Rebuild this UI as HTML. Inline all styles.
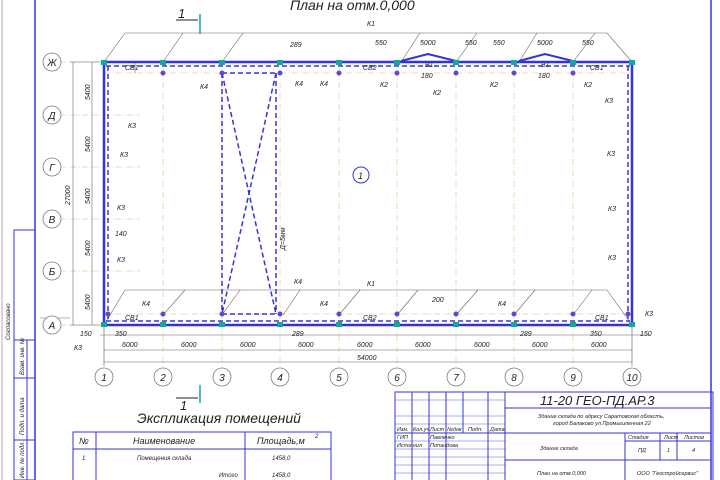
<!DOCTYPE html>
<html><head><meta charset="utf-8"><style>
body{margin:0;background:#fff}
svg{display:block}
text{font-family:"Liberation Sans",sans-serif;font-style:italic;fill:#222}
</style></head><body>
<svg width="720" height="480" viewBox="0 0 720 480" xmlns="http://www.w3.org/2000/svg">
<!-- frame -->
<line x1="35" y1="0" x2="35" y2="480" stroke="#3333dd" stroke-width="1.5"/>
<line x1="711" y1="0" x2="711" y2="480" stroke="#3333dd" stroke-width="1.5"/>
<line x1="2" y1="0" x2="2" y2="480" stroke="#999" stroke-width="0.8"/>
<g stroke="#3333dd" stroke-width="1" fill="none">
<rect x="14" y="230" width="21" height="250"/>
<line x1="27" y1="340" x2="27" y2="480"/>
<line x1="14" y1="340" x2="35" y2="340"/>
<line x1="14" y1="378" x2="35" y2="378"/>
<line x1="14" y1="440" x2="35" y2="440"/>
</g>
<g font-size="6" fill="#333">
<text transform="translate(10,340) rotate(-90)">Согласовано</text>
<text transform="translate(24,375) rotate(-90)">Взам. инв. №</text>
<text transform="translate(24,435) rotate(-90)">Подп. и дата</text>
<text transform="translate(24,478) rotate(-90)">Инв. № подл.</text>
</g>
<!-- title -->
<text x="290" y="10" font-size="14">План на отм.0,000</text>
<!-- section mark -->
<text x="178" y="18" font-size="13" font-style="normal">1</text>
<line x1="176" y1="20" x2="198" y2="20" stroke="#222"/>
<line x1="200" y1="14" x2="200" y2="34" stroke="#1a9" stroke-width="1.5"/>
<text x="180" y="410" font-size="13" font-style="normal">1</text>
<line x1="176" y1="398" x2="198" y2="398" stroke="#222"/>
<line x1="200" y1="385" x2="200" y2="403" stroke="#1a9" stroke-width="1.5"/>
<!-- axis lines -->
<g stroke="#e8b070" stroke-width="0.5" stroke-dasharray="6 2 1 2">
<line x1="104" y1="60" x2="104" y2="368"/><line x1="163" y1="60" x2="163" y2="368"/><line x1="222" y1="60" x2="222" y2="368"/><line x1="280" y1="60" x2="280" y2="368"/><line x1="339" y1="60" x2="339" y2="368"/><line x1="397" y1="60" x2="397" y2="368"/><line x1="456" y1="60" x2="456" y2="368"/><line x1="514" y1="60" x2="514" y2="368"/><line x1="573" y1="60" x2="573" y2="368"/><line x1="632" y1="60" x2="632" y2="368"/>
<line x1="60" y1="62" x2="140" y2="62"/><line x1="60" y1="115" x2="140" y2="115"/><line x1="60" y1="167" x2="140" y2="167"/><line x1="60" y1="219" x2="140" y2="219"/><line x1="60" y1="271" x2="140" y2="271"/><line x1="60" y1="325" x2="140" y2="325"/>
<line x1="104" y1="73" x2="632" y2="73"/><line x1="104" y1="314" x2="632" y2="314"/>
</g>
<!-- trapezoid leader lines -->
<g stroke="#666" stroke-width="0.6" fill="none">
<polyline points="104,62 125,33 607,33 632,62"/>
<polyline points="104,325 125,290 607,290 632,325"/>
<line x1="163" y1="62" x2="183" y2="33"/><line x1="222" y1="62" x2="243" y2="33"/><line x1="401" y1="62" x2="420" y2="33"/><line x1="456" y1="62" x2="477" y2="33"/><line x1="519" y1="62" x2="537" y2="33"/><line x1="573" y1="62" x2="595" y2="33"/>
<line x1="163" y1="315" x2="185" y2="290"/><line x1="222" y1="315" x2="240" y2="290"/><line x1="283" y1="315" x2="300" y2="290"/><line x1="339" y1="315" x2="360" y2="290"/><line x1="397" y1="315" x2="418" y2="290"/><line x1="456" y1="315" x2="478" y2="290"/><line x1="514" y1="315" x2="535" y2="290"/><line x1="573" y1="315" x2="592" y2="290"/>
<!-- dims -->
<line x1="73" y1="62" x2="73" y2="325"/><line x1="92" y1="62" x2="92" y2="325"/>
<line x1="70" y1="62" x2="104" y2="62"/><line x1="70" y1="325" x2="104" y2="325"/>
<line x1="104" y1="350" x2="632" y2="350"/><line x1="104" y1="362" x2="632" y2="362"/>
<line x1="104" y1="325" x2="104" y2="366"/><line x1="632" y1="325" x2="632" y2="366"/>
<line x1="100" y1="335" x2="650" y2="335"/>
<line x1="40" y1="318" x2="70" y2="318" /><line x1="135" y1="62" x2="135" y2="73"/>
</g>
<g font-size="7">
<text x="367" y="26">К1</text><text x="367" y="286">К1</text>
<text transform="translate(70,205) rotate(-90)">27000</text>
<text transform="translate(90,100) rotate(-90)">5400</text><text transform="translate(90,152) rotate(-90)">5400</text><text transform="translate(90,204) rotate(-90)">5400</text><text transform="translate(90,256) rotate(-90)">5400</text><text transform="translate(90,310) rotate(-90)">5400</text>
<text x="122" y="347">6000</text><text x="181" y="347">6000</text><text x="240" y="347">6000</text><text x="298" y="347">6000</text><text x="357" y="347">6000</text><text x="415" y="347">6000</text><text x="474" y="347">6000</text><text x="532" y="347">6000</text><text x="591" y="347">6000</text>
<text x="357" y="360">54000</text>
<text x="80" y="336">150</text><text x="115" y="336">350</text><text x="292" y="336">289</text><text x="520" y="336">289</text><text x="590" y="336">350</text><text x="640" y="336">150</text><text x="74" y="350">К3</text><text x="645" y="316">К3</text>
<text x="125" y="70">СВ1</text><text x="363" y="70">СВ2</text><text x="590" y="70">СВ1</text>
<text x="125" y="320">СВ1</text><text x="363" y="320">СВ2</text><text x="595" y="320">СВ1</text>
<text x="375" y="45">550</text><text x="420" y="45">5000</text><text x="465" y="45">550</text><text x="493" y="45">550</text><text x="537" y="45">5000</text><text x="582" y="45">550</text><text x="290" y="47">289</text>
<text x="425" y="67">В1</text><text x="541" y="67">В1</text><text x="421" y="78">180</text><text x="538" y="78">180</text>
<text x="380" y="87">К2</text><text x="433" y="95">К2</text><text x="490" y="87">К2</text><text x="584" y="87">К2</text>
<text x="200" y="89">К4</text><text x="295" y="86">К4</text><text x="320" y="86">К4</text>
<text x="128" y="128">К3</text><text x="120" y="157">К3</text><text x="117" y="210">К3</text><text x="117" y="262">К3</text><text x="115" y="236">140</text>
<text x="607" y="156">К3</text><text x="608" y="211">К3</text><text x="608" y="260">К3</text><text x="605" y="103">К3</text>
<text x="142" y="306">К4</text><text x="294" y="284">К4</text><text x="320" y="306">К4</text><text x="498" y="306">К4</text><text x="432" y="302">200</text>
<text transform="translate(285,250) rotate(-90)">Д=5мм</text>
</g>
<!-- circle 1 -->
<circle cx="361" cy="175" r="8" fill="none" stroke="#3333dd"/><text x="358" y="179" font-size="9" font-style="normal">1</text>
<!-- X bracing -->
<g stroke="#3333dd" stroke-width="1.5" fill="none" stroke-dasharray="5 3">
<line x1="222" y1="73" x2="222" y2="314"/><line x1="276" y1="73" x2="276" y2="314"/>
<line x1="222" y1="73" x2="276" y2="314"/><line x1="276" y1="73" x2="222" y2="314"/>
<line x1="222" y1="73" x2="276" y2="73"/><line x1="222" y1="314" x2="276" y2="314"/>
<line x1="106" y1="66" x2="630" y2="66"/><line x1="106" y1="321" x2="630" y2="321"/>
<line x1="108" y1="66" x2="108" y2="321"/><line x1="628" y1="66" x2="628" y2="321"/>
</g>
<!-- building outline -->
<rect x="104" y="62" width="528" height="263" fill="none" stroke="#3333dd" stroke-width="2.5"/>
<polyline points="401,61 428,54 456,61" fill="none" stroke="#3333dd" stroke-width="2"/>
<polyline points="519,61 545,54 573,61" fill="none" stroke="#3333dd" stroke-width="2"/>
<!-- columns -->
<g fill="#1a9">
<rect x="101" y="60" width="6" height="5"/><rect x="160" y="60" width="6" height="5"/><rect x="219" y="60" width="6" height="5"/><rect x="277" y="60" width="6" height="5"/><rect x="336" y="60" width="6" height="5"/><rect x="394" y="60" width="6" height="5"/><rect x="453" y="60" width="6" height="5"/><rect x="511" y="60" width="6" height="5"/><rect x="570" y="60" width="6" height="5"/><rect x="629" y="60" width="6" height="5"/>
<rect x="101" y="322" width="6" height="5"/><rect x="160" y="322" width="6" height="5"/><rect x="219" y="322" width="6" height="5"/><rect x="277" y="322" width="6" height="5"/><rect x="336" y="322" width="6" height="5"/><rect x="394" y="322" width="6" height="5"/><rect x="453" y="322" width="6" height="5"/><rect x="511" y="322" width="6" height="5"/><rect x="570" y="322" width="6" height="5"/><rect x="629" y="322" width="6" height="5"/>
</g>
<g fill="#5a4acc">
<circle cx="163" cy="73" r="2.5"/><circle cx="222" cy="73" r="2.5"/><circle cx="280" cy="73" r="2.5"/><circle cx="339" cy="73" r="2.5"/><circle cx="397" cy="73" r="2.5"/><circle cx="456" cy="73" r="2.5"/><circle cx="514" cy="73" r="2.5"/><circle cx="573" cy="73" r="2.5"/>
<circle cx="163" cy="314" r="2.5"/><circle cx="222" cy="314" r="2.5"/><circle cx="280" cy="314" r="2.5"/><circle cx="339" cy="314" r="2.5"/><circle cx="397" cy="314" r="2.5"/><circle cx="456" cy="314" r="2.5"/><circle cx="514" cy="314" r="2.5"/><circle cx="573" cy="314" r="2.5"/><circle cx="108" cy="314" r="2.5"/><circle cx="628" cy="314" r="2.5"/>
</g>
<!-- axis bubbles -->
<g fill="#fff" stroke="#777" stroke-width="0.8">
<circle cx="104" cy="377" r="9"/><circle cx="163" cy="377" r="9"/><circle cx="222" cy="377" r="9"/><circle cx="280" cy="377" r="9"/><circle cx="339" cy="377" r="9"/><circle cx="397" cy="377" r="9"/><circle cx="456" cy="377" r="9"/><circle cx="514" cy="377" r="9"/><circle cx="573" cy="377" r="9"/><circle cx="632" cy="377" r="9"/>
<circle cx="52" cy="62" r="9"/><circle cx="52" cy="115" r="9"/><circle cx="52" cy="167" r="9"/><circle cx="52" cy="219" r="9"/><circle cx="52" cy="271" r="9"/><circle cx="52" cy="325" r="9"/>
</g>
<g font-size="10" text-anchor="middle">
<text x="104" y="381">1</text><text x="163" y="381">2</text><text x="222" y="381">3</text><text x="280" y="381">4</text><text x="339" y="381">5</text><text x="397" y="381">6</text><text x="456" y="381">7</text><text x="514" y="381">8</text><text x="573" y="381">9</text><text x="632" y="381">10</text>
<text x="52" y="66">Ж</text><text x="52" y="119">Д</text><text x="52" y="171">Г</text><text x="52" y="223">В</text><text x="52" y="275">Б</text><text x="52" y="329">А</text>
</g>
<!-- explication -->
<text x="137" y="423" font-size="14">Экспликация помещений</text>
<g stroke="#3333dd" stroke-width="1" fill="none">
<rect x="73" y="432" width="258" height="60"/>
<line x1="96" y1="432" x2="96" y2="480"/><line x1="245" y1="432" x2="245" y2="480"/>
<line x1="73" y1="449" x2="331" y2="449"/>
</g>
<g font-size="9"><text x="79" y="444">№</text><text x="133" y="444">Наименование</text><text x="257" y="444">Площадь,м</text><text x="315" y="438" font-size="6">2</text></g>
<g font-size="6"><text x="82" y="460">1</text><text x="137" y="460">Помещения склада</text><text x="272" y="460">1458,0</text><text x="219" y="477">Итого</text><text x="272" y="477">1458,0</text></g>
<!-- title block -->
<g stroke="#3333dd" stroke-width="1" fill="none">
<rect x="395" y="392" width="318" height="100"/>
<line x1="505" y1="392" x2="505" y2="480"/>
<line x1="412" y1="392" x2="412" y2="480"/><line x1="429" y1="392" x2="429" y2="480"/><line x1="446" y1="392" x2="446" y2="480"/><line x1="463" y1="392" x2="463" y2="433"/><line x1="488" y1="392" x2="488" y2="480"/>
<line x1="505" y1="408" x2="711" y2="408"/><line x1="395" y1="433" x2="711" y2="433"/><line x1="505" y1="460" x2="711" y2="460"/>
<line x1="625" y1="433" x2="625" y2="480"/><line x1="660" y1="433" x2="660" y2="460"/><line x1="677" y1="433" x2="677" y2="460"/><line x1="625" y1="441" x2="711" y2="441"/>
</g>
<g stroke="#3333dd" stroke-width="0.4"><line x1="395" y1="400" x2="505" y2="400"/><line x1="395" y1="416" x2="505" y2="416"/><line x1="395" y1="424" x2="505" y2="424"/><line x1="395" y1="441" x2="505" y2="441"/><line x1="395" y1="449" x2="505" y2="449"/><line x1="395" y1="457" x2="505" y2="457"/><line x1="395" y1="465" x2="505" y2="465"/><line x1="395" y1="473" x2="505" y2="473"/></g>
<text x="540" y="405" font-size="13">11-20 ГЕО-ПД.АР.3</text>
<g font-size="5.5"><text x="538" y="418">Здание склада по адресу Саратовская область,</text><text x="553" y="425">город Балаково ул.Промышленная 22</text>
<text x="397" y="431">Изм.</text><text x="413" y="431">Кол.уч</text><text x="430" y="431">Лист</text><text x="447" y="431">№док</text><text x="468" y="431">Подп.</text><text x="490" y="431">Дата</text>
<text x="397" y="439">ГИП</text><text x="430" y="439">Павленко</text><text x="397" y="447">Исполнил</text><text x="430" y="447">Попандова</text>
<text x="540" y="450">Здание склада</text><text x="628" y="439">Стадия</text><text x="664" y="439">Лист</text><text x="684" y="439">Листов</text>
<text x="638" y="452">ПД</text><text x="667" y="452">1</text><text x="692" y="452">4</text>
<text x="537" y="475">План на отм.0,000</text><text x="637" y="475">ООО "Геостройсервис"</text></g>
</svg>
</body></html>
